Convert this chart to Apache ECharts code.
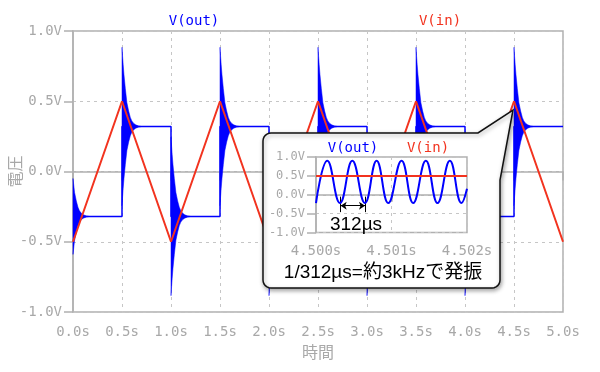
<!DOCTYPE html>
<html><head><meta charset="utf-8">
<script src="https://cdn.jsdelivr.net/npm/echarts@6/dist/echarts.min.js"></script>
<style>html,body{margin:0;padding:0;background:#fff}#c{width:600px;height:372px}</style>
</head><body><div id="c"></div>
<script>
// ---------------- data ----------------
const SERIES_NAMES = ['V(out)', 'V(in)'];
const X_NAME = '時間';
const Y_NAME = '電圧';
const X_TICK_STEP = 0.5;   // s
const Y_TICK_STEP = 0.5;   // V

// V(in): triangle wave corner points
const VIN_T = [0, 0.5, 1, 1.5, 2, 2.5, 3, 3.5, 4, 4.5, 5];
const VIN_V = [-0.5, 0.5, -0.5, 0.5, -0.5, 0.5, -0.5, 0.5, -0.5, 0.5, -0.5];

// V(out): settled square levels (corner points)
const VOUT_T = [0, 0.5, 0.5, 1, 1, 1.5, 1.5, 2, 2, 2.5, 2.5, 3, 3, 3.5, 3.5, 4, 4, 4.5, 4.5, 5];
const VOUT_V = [-0.32, -0.32, 0.32, 0.32, -0.32, -0.32, 0.32, 0.32, -0.32, -0.32,
                0.32, 0.32, -0.32, -0.32, 0.32, 0.32, -0.32, -0.32, 0.32, 0.32];

// V(out) ringing bursts: start time, level it settles to, part of the envelope already gone
const RING_T     = [0, 0.5, 1, 1.5, 2, 2.5, 3, 3.5, 4, 4.5];
const RING_LEVEL = [-0.32, 0.32, -0.32, 0.32, -0.32, 0.32, -0.32, 0.32, -0.32, 0.32];
const RING_SKIP  = [0.034, 0, 0, 0, 0, 0, 0, 0, 0, 0];
// envelope (half peak-to-peak, V) of the ringing vs time after the step (s)
const ENV_DT  = [0, 0.006, 0.012, 0.02, 0.034, 0.05, 0.068, 0.085, 0.10, 0.12, 0.14, 0.17, 0.2];
const ENV_AMP = [0.564, 0.50, 0.44, 0.37, 0.27, 0.17, 0.11, 0.065, 0.04, 0.022, 0.012, 0.004, 0];

// inset: 4.500 s .. 4.502 s
const ZOOM_X_TICKS = [4.500, 4.501, 4.502];
const ZOOM_T = [4.5, 4.500150, 4.500317, 4.500481, 4.500648, 4.500803, 4.500957,
                4.501133, 4.501287, 4.501455, 4.501609, 4.501773, 4.501927, 4.502];
const ZOOM_VOUT = [-0.22, 0.90, -0.22, 0.90, -0.22, 0.90, -0.22,
                   0.90, -0.22, 0.90, -0.22, 0.90, -0.22, 0.16];
const ZOOM_VIN_T = [4.5, 4.502];
const ZOOM_VIN_V = [0.5, 0.496];
const PERIOD_MARK = [4.500327, 4.500649];
const PERIOD_LABEL = '312µs';
const NOTE = '1/312µs=約3kHzで発振';

// ---------------- chart ----------------
const BLUE = '#0000ff', RED = '#f2331f', GREY = '#a8a8a8', AXIS = '#b0b0b0', GRID = '#c6c6c6';
const MONO = '"DejaVu Sans Mono", monospace';
const SANS = '"Liberation Sans", Arial, "Noto Sans CJK JP", sans-serif';
const CJK = '"Noto Sans CJK JP", sans-serif';

const zip = (a, b) => a.map((v, i) => [v, b[i]]);
const chart = echarts.init(document.getElementById('c'), null, {renderer: 'canvas'});

function axisCommon(fs) {
  return {
    axisLine: {show: true, lineStyle: {color: AXIS, width: 1.5}},
    axisTick: {show: true, inside: false, length: 9, lineStyle: {color: AXIS, width: 1.5}},
    splitLine: {show: true, lineStyle: {color: GRID, type: [3, 4], width: 1}},
    axisLabel: {color: GREY, fontFamily: MONO, fontSize: fs}
  };
}

// callout outline (annotation shape) with rounded corners
function arc(cx, cy, r, a0, a1, n) {
  const p = [];
  for (let i = 0; i <= n; i++) {
    const a = a0 + (a1 - a0) * i / n;
    p.push([cx + r * Math.cos(a), cy + r * Math.sin(a)]);
  }
  return p;
}
const L = 263, T = 133, R = 500, B = 288, rr = 8;
const calloutPts = []
  .concat(arc(L + rr, T + rr, rr, Math.PI, 1.5 * Math.PI, 6))
  .concat([[478, T], [513, 110], [R, 180]])
  .concat(arc(R - rr, B - rr, rr, 0, 0.5 * Math.PI, 6))
  .concat(arc(L + rr, B - rr, rr, 0.5 * Math.PI, Math.PI, 6));

const gx = 316, gy = 157, gw = 151, gh = 75.5;

const option = {
  animation: false,
  backgroundColor: '#fff',
  grid: [
    {left: 73, right: 37, top: 31, bottom: 60, show: true, borderColor: AXIS, borderWidth: 1.5,
     containLabel: false, outerBoundsMode: 'none'},
    {left: gx, top: gy, width: gw, height: gh, show: true, borderColor: AXIS, borderWidth: 1.5, z: 10,
     backgroundColor: 'transparent', containLabel: false, outerBoundsMode: 'none'}
  ],
  xAxis: [
    Object.assign(axisCommon(14), {
      type: 'value', gridIndex: 0, min: 0, max: 5, interval: X_TICK_STEP,
      name: X_NAME, nameLocation: 'middle', nameGap: 32, nameMoveOverlap: false,
      nameTextStyle: {color: GREY, fontFamily: CJK, fontSize: 16},
      axisLabel: {color: GREY, fontFamily: MONO, fontSize: 14, margin: 13, formatter: v => v.toFixed(1) + 's'}
    }),
    Object.assign(axisCommon(14), {
      type: 'value', gridIndex: 1, min: ZOOM_X_TICKS[0], max: ZOOM_X_TICKS[2], interval: 0.001, z: 10,
      axisTick: {show: true, length: 7, lineStyle: {color: AXIS, width: 1.5}},
      axisLabel: {color: GREY, fontFamily: MONO, fontSize: 14, margin: 12, formatter: v => v.toFixed(3) + 's'}
    })
  ],
  yAxis: [
    Object.assign(axisCommon(14), {
      type: 'value', gridIndex: 0, min: -1, max: 1, interval: Y_TICK_STEP,
      name: Y_NAME, nameLocation: 'middle', nameGap: 50, nameRotate: 90, nameMoveOverlap: false,
      nameTextStyle: {color: GREY, fontFamily: CJK, fontSize: 16},
      axisLabel: {color: GREY, fontFamily: MONO, fontSize: 14, margin: 11, formatter: v => v.toFixed(1) + 'V'}
    }),
    Object.assign(axisCommon(12), {
      type: 'value', gridIndex: 1, min: -1, max: 1, interval: Y_TICK_STEP, z: 10,
      axisTick: {show: true, length: 9, lineStyle: {color: AXIS, width: 1.5}},
      axisLabel: {color: GREY, fontFamily: MONO, fontSize: 12, margin: 11, formatter: v => v.toFixed(1) + 'V'}
    })
  ],
  series: [
    {
      type: 'custom', name: SERIES_NAMES[0] + ' ringing', xAxisIndex: 0, yAxisIndex: 0, z: 1,
      data: RING_T.map((t, i) => [t, RING_LEVEL[i], RING_SKIP[i]]),
      encode: {x: 0, y: 1},
      renderItem(params, api) {
        const t0 = api.value(0), lev = api.value(1), skip = api.value(2);
        const up = [], dn = [];
        for (let k = 0; k < ENV_DT.length; k++) {
          if (ENV_DT[k] < skip - 1e-9) continue;
          const t = t0 + ENV_DT[k] - skip;
          up.push(api.coord([t, lev + ENV_AMP[k]]));
          dn.push(api.coord([t, lev - ENV_AMP[k]]));
        }
        return {type: 'polygon', shape: {points: up.concat(dn.reverse())},
                style: {fill: BLUE, stroke: BLUE, lineWidth: 0.5}};
      }
    },
    {
      type: 'line', name: SERIES_NAMES[0], xAxisIndex: 0, yAxisIndex: 0, z: 2,
      data: zip(VOUT_T, VOUT_V), showSymbol: false, symbol: 'none',
      lineStyle: {color: BLUE, width: 1.5}
    },
    {
      type: 'line', name: SERIES_NAMES[1], xAxisIndex: 0, yAxisIndex: 0, z: 3,
      data: zip(VIN_T, VIN_V), showSymbol: false, symbol: 'none',
      lineStyle: {color: RED, width: 2}
    },
    {
      type: 'line', name: SERIES_NAMES[0] + ' zoom', xAxisIndex: 1, yAxisIndex: 1, z: 12,
      data: zip(ZOOM_T, ZOOM_VOUT), showSymbol: false, symbol: 'none', smooth: 0.45,
      lineStyle: {color: BLUE, width: 2},
      markLine: {
        silent: true, animation: false, symbol: 'none', symbolSize: 6,
        label: {show: false},
        lineStyle: {color: '#000', width: 1, type: 'solid'},
        data: [
          [{coord: [PERIOD_MARK[0], -0.05]}, {coord: [PERIOD_MARK[0], -0.46]}],
          [{coord: [PERIOD_MARK[1], -0.05]}, {coord: [PERIOD_MARK[1], -0.46]}],
          [{coord: [PERIOD_MARK[0], -0.29], symbol: 'arrow', symbolSize: 6},
           {coord: [PERIOD_MARK[1], -0.29], symbol: 'arrow', symbolSize: 6}]
        ]
      }
    },
    {
      type: 'line', name: SERIES_NAMES[1] + ' zoom', xAxisIndex: 1, yAxisIndex: 1, z: 13,
      data: zip(ZOOM_VIN_T, ZOOM_VIN_V), showSymbol: false, symbol: 'none',
      lineStyle: {color: RED, width: 2}
    }
  ],
  graphic: [
    {type: 'text', z: 20, x: 194, y: 21, style: {text: SERIES_NAMES[0], fill: BLUE, font: '14px ' + MONO, textAlign: 'center', textVerticalAlign: 'middle'}},
    {type: 'text', z: 20, x: 440, y: 21, style: {text: SERIES_NAMES[1], fill: RED, font: '14px ' + MONO, textAlign: 'center', textVerticalAlign: 'middle'}},
    {type: 'polygon', z: 5, shape: {points: calloutPts},
     style: {fill: '#fff', stroke: '#111', lineWidth: 1.5, shadowBlur: 4, shadowOffsetX: 1, shadowOffsetY: 2, shadowColor: 'rgba(0,0,0,0.35)'}},
    {type: 'text', z: 20, x: 353, y: 148, style: {text: SERIES_NAMES[0], fill: BLUE, font: '14px ' + MONO, textAlign: 'center', textVerticalAlign: 'middle'}},
    {type: 'text', z: 20, x: 428, y: 148, style: {text: SERIES_NAMES[1], fill: RED, font: '14px ' + MONO, textAlign: 'center', textVerticalAlign: 'middle'}},
    {type: 'text', z: 20, x: 356, y: 224.5, style: {text: PERIOD_LABEL, fill: '#000', font: '19px ' + SANS, textAlign: 'center', textVerticalAlign: 'middle'}},
    {type: 'text', z: 20, x: 383, y: 272.5, style: {text: NOTE, fill: '#000', font: '19px ' + SANS, textAlign: 'center', textVerticalAlign: 'middle'}}
  ]
};
chart.setOption(option);
</script>
</body></html>
